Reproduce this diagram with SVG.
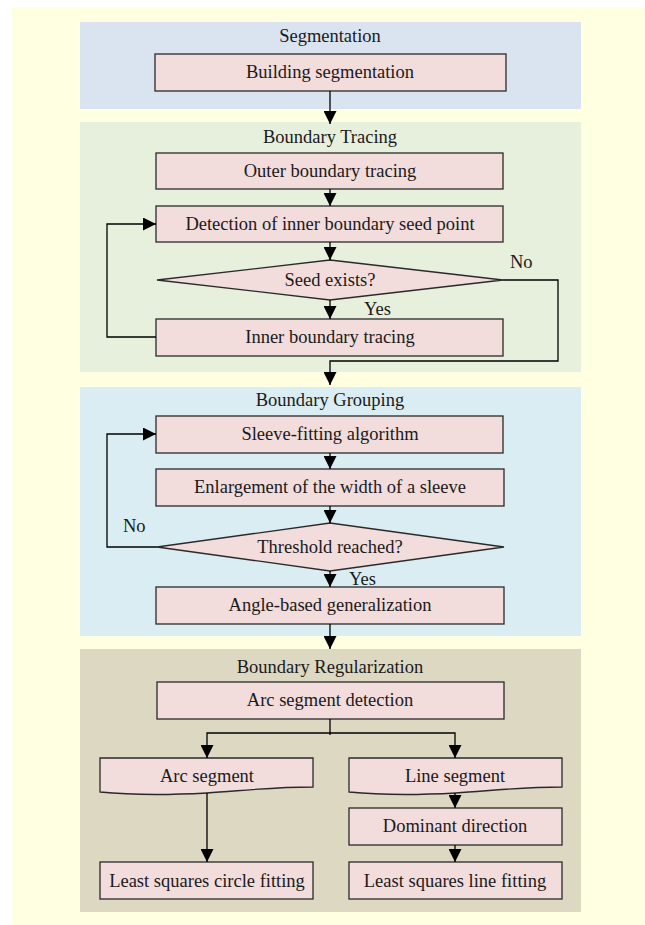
<svg xmlns="http://www.w3.org/2000/svg" width="645" height="925" viewBox="0 0 645 925">
<defs>
<marker id="ah" markerUnits="userSpaceOnUse" markerWidth="13" markerHeight="13" refX="13" refY="6.5" orient="auto">
<path d="M0,0 L13,6.5 L0,13 Z" fill="#000"/>
</marker>
<style>
text{font-family:"Liberation Serif","Times New Roman",serif;font-size:18.5px;fill:#1a1a1a;text-anchor:middle}
.box{fill:#F2DCDC;stroke:#2a2a2a;stroke-width:1.3}
.c{fill:none;stroke:#000;stroke-width:1.3}
.a{marker-end:url(#ah)}
.lbl{text-anchor:start}
</style>
</defs>
<rect x="12" y="7" width="633" height="918" fill="#FFFFE2"/>
<g id="panel-segmentation">
<rect x="80" y="22" width="501" height="87" fill="#DAE3F0"/>
<text x="330" y="42">Segmentation</text>
</g>
<g id="panel-tracing">
<rect x="80" y="122" width="501" height="250" fill="#E7EFDD"/>
<text x="330" y="143">Boundary Tracing</text>
</g>
<g id="panel-grouping">
<rect x="80" y="387" width="501" height="249" fill="#DAEDF3"/>
<text x="330" y="406">Boundary Grouping</text>
</g>
<g id="panel-regularization">
<rect x="80" y="649" width="501" height="263" fill="#DCD8C2"/>
<text x="330" y="673">Boundary Regularization</text>
</g>
<g id="building-segmentation">
<rect class="box" x="155" y="54" width="351" height="37"/>
<text x="330" y="78">Building segmentation</text>
</g>
<g id="outer-boundary">
<rect class="box" x="156" y="153" width="347" height="36"/>
<text x="330" y="177">Outer boundary tracing</text>
</g>
<g id="seed-detection">
<rect class="box" x="156" y="206" width="347" height="36"/>
<text x="330" y="230">Detection of inner boundary seed point</text>
</g>
<g id="seed-exists">
<polygon class="box" points="330,260 503,280 330,300 157,280"/>
<text x="330" y="286">Seed exists?</text>
</g>
<g id="inner-boundary">
<rect class="box" x="156" y="319" width="347" height="37"/>
<text x="330" y="343">Inner boundary tracing</text>
</g>
<g id="sleeve-fitting">
<rect class="box" x="156" y="416" width="347" height="37"/>
<text x="330" y="440">Sleeve-fitting algorithm</text>
</g>
<g id="enlargement">
<rect class="box" x="156" y="469" width="348" height="37"/>
<text x="330" y="493">Enlargement of the width of a sleeve</text>
</g>
<g id="threshold">
<polygon class="box" points="330,523 504,547 330,571 157,547"/>
<text x="330" y="553">Threshold reached?</text>
</g>
<g id="angle-generalization">
<rect class="box" x="156" y="587" width="348" height="37"/>
<text x="330" y="611">Angle-based generalization</text>
</g>
<g id="arc-detection">
<rect class="box" x="157" y="682" width="347" height="37"/>
<text x="330" y="706">Arc segment detection</text>
</g>
<g id="arc-segment">
<path class="box" d="M100,758 H313 V787 C270,787 240,791 207,793 C170,795 130,795 100,792 Z"/>
<text x="207" y="782">Arc segment</text>
</g>
<g id="line-segment">
<path class="box" d="M349,758 H562 V787 C519,787 489,791 456,793 C419,795 379,795 349,792 Z"/>
<text x="455" y="782">Line segment</text>
</g>
<g id="dominant-direction">
<rect class="box" x="349" y="808" width="213" height="37"/>
<text x="455" y="832">Dominant direction</text>
</g>
<g id="circle-fitting">
<rect class="box" x="100" y="862" width="213" height="37"/>
<text x="207" y="887">Least squares circle fitting</text>
</g>
<g id="line-fitting">
<rect class="box" x="349" y="862" width="213" height="37"/>
<text x="455" y="887">Least squares line fitting</text>
</g>
<g id="connectors">
<path class="c a" d="M330,91 V124"/>
<path class="c a" d="M330,189 V206"/>
<path class="c a" d="M330,242 V260"/>
<path class="c a" d="M330,300 V319"/>
<path class="c a" d="M156,337 H107 V224 H156"/>
<path class="c a" d="M503,280 H558 V361 H330 V385"/>
<path class="c a" d="M330,453 V469"/>
<path class="c a" d="M330,506 V523"/>
<path class="c a" d="M157,547 H107 V434 H156"/>
<path class="c a" d="M330,571 V587"/>
<path class="c a" d="M330,624 V649"/>
<path class="c" d="M330,719 V735"/>
<path class="c a" d="M330,733 H207 V758"/>
<path class="c a" d="M330,733 H455 V758"/>
<path class="c a" d="M207,793 V862"/>
<path class="c a" d="M455,793 V808"/>
<path class="c a" d="M455,845 V862"/>
<text class="lbl" x="364" y="315">Yes</text>
<text class="lbl" x="510" y="268">No</text>
<text class="lbl" x="123" y="532">No</text>
<text class="lbl" x="349" y="585">Yes</text>
</g>
</svg>
